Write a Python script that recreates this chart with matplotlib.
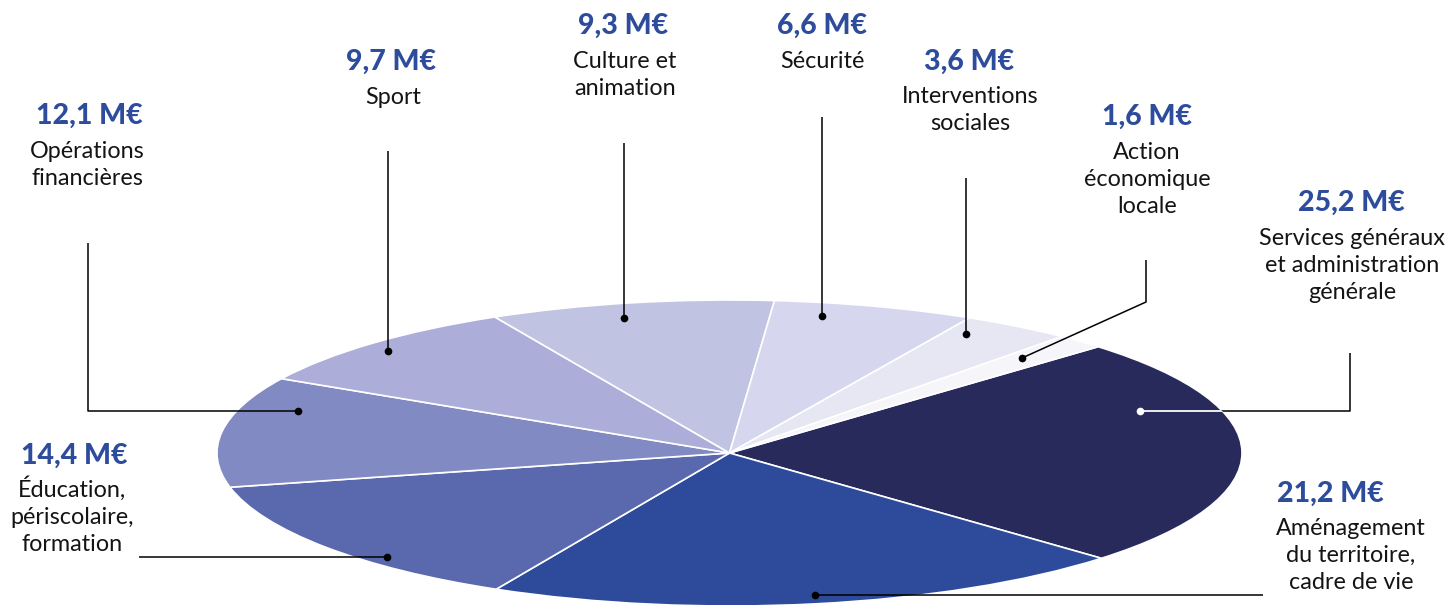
import matplotlib.pyplot as plt

# --- data ---
categories = [
    "Services généraux\net administration\ngénérale",
    "Aménagement\ndu territoire,\ncadre de vie",
    "Éducation,\npériscolaire,\nformation",
    "Opérations\nfinancières",
    "Sport",
    "Culture et\nanimation",
    "Sécurité",
    "Interventions\nsociales",
    "Action\néconomique\nlocale",
]
values = [25.2, 21.2, 14.4, 12.1, 9.7, 9.3, 6.6, 3.6, 1.6]
value_labels = [f"{v:.1f}".replace(".", ",") + " M€" for v in values]

# --- styles ---
colors = ["#292a5c", "#2d4b9a", "#5a68ae", "#818ac3", "#acaed9",
          "#c0c3e2", "#d6d6ee", "#e7e7f4", "#f5f5fa"]
value_color = "#2d4c9c"
text_color = "#141414"
line_step = 27  # px between label lines

# label layout in figure pixels: (value x, value baseline, label x, first label baseline)
text_pos = [
    (1351, 211, 1352, 245),
    (1330, 502, 1351, 535),
    (74, 464, 72, 497),
    (89, 124, 87, 158),
    (391, 70, 393, 104),
    (623, 34, 625, 68),
    (822, 34, 822, 68),
    (969, 70, 970, 103),
    (1147, 125, 1147, 159),
]
# leader lines in figure pixels, last point carries the dot
leaders = [
    [(1350, 353), (1350, 411), (1140, 411)],
    [(1263, 595), (815, 595)],
    [(139, 557), (387, 557)],
    [(88, 243), (88, 411), (298, 411)],
    [(388, 151), (388, 351)],
    [(624, 143), (624, 318)],
    [(822, 117), (822, 316)],
    [(966, 178), (966, 334)],
    [(1146, 260), (1146, 302), (1022, 358)],
]

W, H = 1449, 605
fig = plt.figure(figsize=(W / 100, H / 100), dpi=100)

# flattened pie: unit circle stretched into the ellipse
ax = fig.add_axes([217 / W, -1 / H, 1025 / W, 306 / H])
wedges, _ = ax.pie(values, colors=colors, startangle=44, counterclock=False,
                   radius=1, wedgeprops=dict(edgecolor="white", linewidth=1.2))
ax.set_aspect("auto")
ax.set_xlim(-1, 1)
ax.set_ylim(-1, 1)
ax.axis("off")

# overlay in pixel coordinates for labels and leaders
ov = fig.add_axes([0, 0, 1, 1], zorder=3)
ov.set_xlim(0, W)
ov.set_ylim(H, 0)
ov.axis("off")
ov.patch.set_alpha(0)

for i, pts in enumerate(leaders):
    xs = [p[0] for p in pts]
    ys = [p[1] for p in pts]
    ov.plot(xs, ys, color="black", lw=1.1, solid_capstyle="butt")
    dot_color = "black"
    if i == 0:
        # part of the line inside the dark slice is white
        seg, = ov.plot(xs, ys, color="white", lw=1.3)
        seg.set_clip_path(wedges[0])
        dot_color = "white"
    ov.plot(xs[-1], ys[-1], "o", color=dot_color, ms=4.5, mec=dot_color)

for (vx, vy, lx, ly), vl, cat in zip(text_pos, value_labels, categories):
    ov.text(vx, vy, vl, ha="center", va="baseline", color=value_color,
            fontsize=20.5, fontweight="black", family="Lato")
    for k, line in enumerate(cat.split("\n")):
        ov.text(lx, ly + k * line_step, line, ha="center", va="baseline",
                color=text_color, fontsize=16.8, family="Lato")

fig.savefig("out.png", dpi=100)
